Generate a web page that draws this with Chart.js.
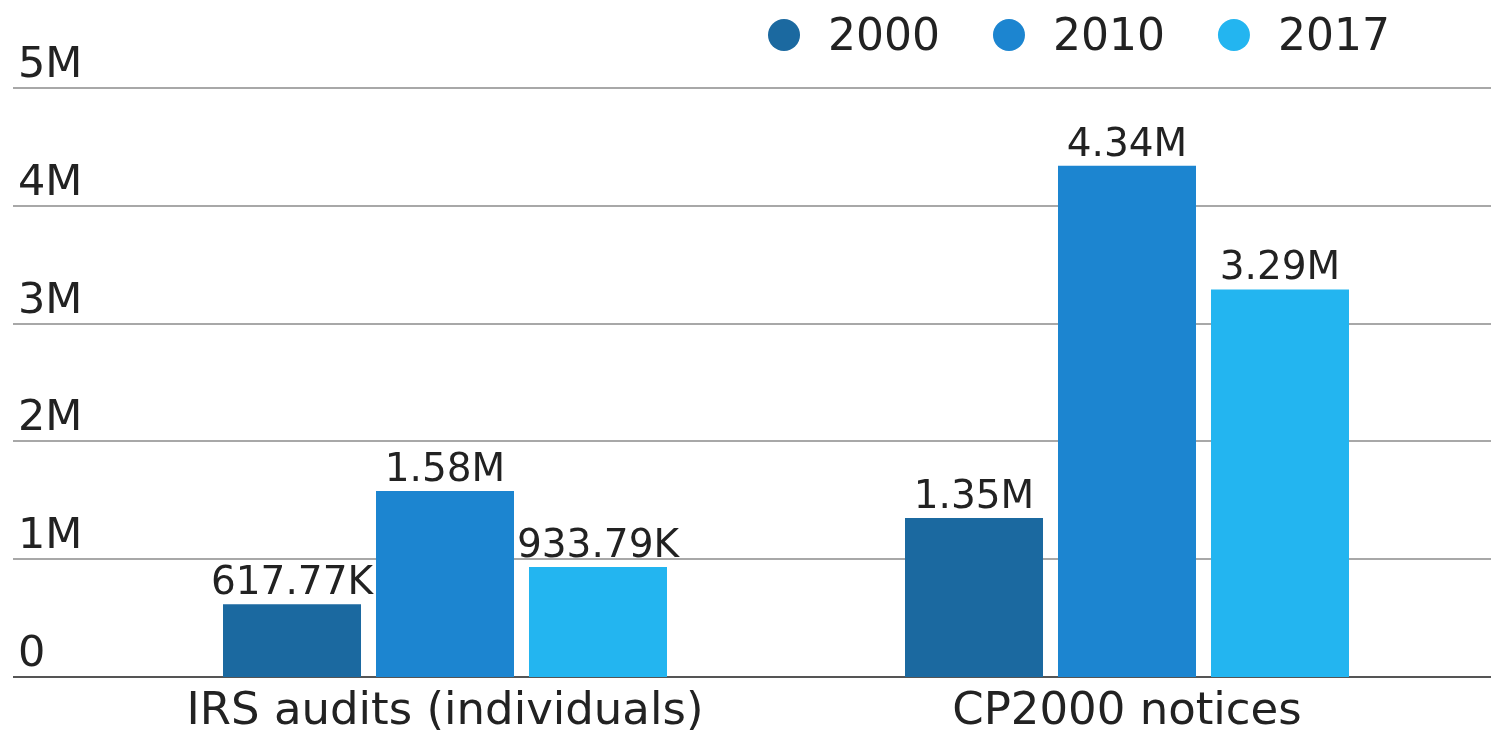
<!DOCTYPE html>
<html>
<head>
<meta charset="utf-8">
<script src="https://cdn.jsdelivr.net/npm/chart.js@4"></script>
<style>
  html, body { margin: 0; padding: 0; background: #fff; }
  #chart { display: block; }
</style>
</head>
<body>
<canvas id="chart" width="1491" height="732"></canvas>
<script>
const categories = ['IRS audits (individuals)', 'CP2000 notices'];
const seriesLabels = ['2000', '2010', '2017'];
const values2000 = [617770, 1350000];
const values2010 = [1580000, 4340000];
const values2017 = [933790, 3290000];
const seriesColors = ['#1b69a0', '#1c85d0', '#23b5f0'];
const yTicks = [0, 1000000, 2000000, 3000000, 4000000, 5000000];
const yTickLabels = ['0', '1M', '2M', '3M', '4M', '5M'];

const FONT = '"DejaVu Sans"';
const TEXT = '#222';

// Format bar values like 617.77K / 1.58M
function formatValue(v) {
  if (v >= 1000000) return (v / 1000000).toFixed(2) + 'M';
  return (v / 1000).toFixed(2) + 'K';
}

// Grid lines across the full width, with tick labels sitting above them
const gridPlugin = {
  id: 'gridLines',
  beforeDatasetsDraw(chart) {
    const { ctx, scales: { y } } = chart;
    ctx.save();
    ctx.font = '43px ' + FONT;
    ctx.fillStyle = TEXT;
    ctx.textAlign = 'left';
    ctx.textBaseline = 'alphabetic';
    yTicks.forEach((v, i) => {
      const py = Math.round(y.getPixelForValue(v));
      ctx.beginPath();
      ctx.strokeStyle = i === 0 ? '#555' : '#a8a8a8';
      ctx.lineWidth = 2;
      ctx.moveTo(13, py);
      ctx.lineTo(chart.width, py);
      ctx.stroke();
      ctx.fillText(yTickLabels[i], 18, py - 11);
    });
    ctx.restore();
  }
};

// Value labels above each bar
const valueLabels = {
  id: 'valueLabels',
  afterDatasetsDraw(chart) {
    const { ctx } = chart;
    ctx.save();
    ctx.font = '39px ' + FONT;
    ctx.fillStyle = TEXT;
    ctx.textAlign = 'center';
    ctx.textBaseline = 'alphabetic';
    chart.data.datasets.forEach((ds, di) => {
      chart.getDatasetMeta(di).data.forEach((bar, i) => {
        ctx.fillText(formatValue(ds.data[i]), bar.x, bar.y - 10);
      });
    });
    ctx.restore();
  }
};

// Legend with round markers, top right
const dotLegend = {
  id: 'dotLegend',
  afterDraw(chart) {
    const { ctx } = chart;
    ctx.save();
    ctx.font = '44px ' + FONT;
    ctx.textBaseline = 'alphabetic';
    ctx.textAlign = 'left';
    let x = 784;
    const y = 35;
    seriesLabels.forEach((label, i) => {
      ctx.beginPath();
      ctx.fillStyle = seriesColors[i];
      ctx.arc(x, y, 16, 0, Math.PI * 2);
      ctx.fill();
      ctx.fillStyle = TEXT;
      ctx.fillText(label, x + 44, 50);
      x += 44 + ctx.measureText(label).width + 69;
    });
    ctx.restore();
  }
};

new Chart(document.getElementById('chart'), {
  type: 'bar',
  data: {
    labels: categories,
    datasets: [values2000, values2010, values2017].map((vals, i) => ({
      label: seriesLabels[i],
      data: vals,
      backgroundColor: seriesColors[i],
      borderWidth: 0,
      barPercentage: 0.902,
      categoryPercentage: 0.673
    }))
  },
  options: {
    responsive: false,
    animation: false,
    devicePixelRatio: 1,
    layout: { padding: { top: 88, left: 104, right: 23, bottom: 0 } },
    plugins: {
      legend: { display: false },
      tooltip: { enabled: false }
    },
    scales: {
      y: {
        display: false,
        min: 0,
        max: 5000000
      },
      x: {
        grid: { display: false, drawTicks: false },
        border: { display: false },
        afterFit(scale) { scale.height = 55; },
        ticks: {
          color: TEXT,
          padding: 13,
          font: { family: 'DejaVu Sans', size: 45, lineHeight: 1 }
        }
      }
    }
  },
  plugins: [gridPlugin, valueLabels, dotLegend]
});
</script>
</body>
</html>
